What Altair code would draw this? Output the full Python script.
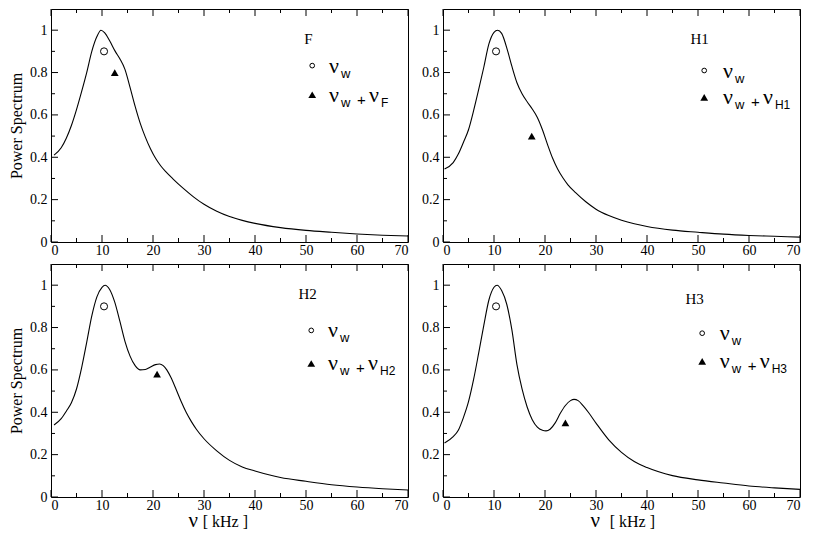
import altair as alt
import pandas as pd

# ---------------- data ----------------
F_NU = [0.6, 2, 3, 4, 5, 6, 7, 8, 9, 9.8, 10.5, 11.5, 12.6, 13.5, 14.5, 15.5, 16.5, 17.5, 18.5, 19.5, 20.5, 21.5, 22.5, 24, 26, 28, 30, 32.5, 35, 37.5, 40, 45, 50, 55, 60, 65, 70]
F_P = [0.41, 0.445, 0.49, 0.55, 0.625, 0.71, 0.80, 0.90, 0.97, 1.0, 0.988, 0.95, 0.90, 0.865, 0.815, 0.73, 0.64, 0.56, 0.495, 0.44, 0.395, 0.36, 0.332, 0.296, 0.252, 0.212, 0.178, 0.145, 0.120, 0.102, 0.088, 0.068, 0.055, 0.046, 0.038, 0.032, 0.028]

H1_NU = [0.3, 2, 3, 4, 5, 6, 7, 8, 9, 10, 10.7, 11.5, 12.7, 13.5, 14.5, 15.5, 16.5, 17.5, 18.5, 19.5, 20.5, 21.5, 22.5, 23.5, 24.5, 26, 28, 30, 32.5, 35, 37.5, 40, 45, 50, 55, 60, 65, 70]
H1_P = [0.345, 0.375, 0.415, 0.47, 0.53, 0.62, 0.72, 0.825, 0.935, 0.99, 1.0, 0.985, 0.90, 0.83, 0.752, 0.70, 0.662, 0.628, 0.588, 0.53, 0.46, 0.395, 0.343, 0.303, 0.27, 0.233, 0.19, 0.155, 0.125, 0.103, 0.086, 0.073, 0.056, 0.046, 0.037, 0.031, 0.027, 0.023]

H2_NU = [0.6, 2, 3, 4, 5, 6, 7, 8, 9, 10, 10.6, 11.5, 12.5, 13.5, 14.5, 15.5, 16.5, 17.5, 18.5, 19.5, 20.5, 21.3, 22, 22.7, 23.5, 24.5, 25.5, 26.5, 27.5, 28.5, 30, 32.5, 35, 37.5, 40, 45, 50, 55, 60, 65, 70]
H2_P = [0.34, 0.37, 0.405, 0.445, 0.51, 0.61, 0.73, 0.855, 0.945, 0.99, 1.0, 0.98, 0.92, 0.83, 0.735, 0.665, 0.62, 0.60, 0.602, 0.614, 0.625, 0.628, 0.62, 0.60, 0.565, 0.51, 0.452, 0.40, 0.357, 0.32, 0.275, 0.218, 0.173, 0.142, 0.123, 0.092, 0.074, 0.058, 0.047, 0.039, 0.033]

H3_NU = [0.3, 2, 3, 4, 5, 6, 7, 8, 9, 10, 10.6, 11.5, 12.5, 13.5, 14.5, 15.5, 16.5, 17.5, 18.5, 19.5, 20.2, 21, 22, 23, 24, 25, 25.7, 26.5, 27.5, 28.5, 30, 32.5, 35, 37.5, 40, 45, 50, 55, 60, 65, 70]
H3_P = [0.255, 0.285, 0.315, 0.375, 0.45, 0.555, 0.68, 0.81, 0.93, 0.99, 1.0, 0.975, 0.91, 0.79, 0.625, 0.51, 0.425, 0.365, 0.33, 0.315, 0.312, 0.32, 0.35, 0.395, 0.432, 0.455, 0.461, 0.455, 0.43, 0.40, 0.349, 0.27, 0.211, 0.168, 0.139, 0.101, 0.081, 0.066, 0.052, 0.043, 0.036]

PANEL_LABELS = ["F", "H1", "H2", "H3"]
CIRCLE_NU = [10.4, 10.4, 10.4, 10.4]
CIRCLE_P = [0.9, 0.9, 0.9, 0.9]
TRIANGLE_NU = [12.5, 17.4, 20.8, 24.0]
TRIANGLE_P = [0.80, 0.50, 0.58, 0.35]

X_MAJOR = [0, 10, 20, 30, 40, 50, 60, 70]
X_MINOR = [5, 15, 25, 35, 45, 55, 65]
Y_MAJOR = [0, 0.2, 0.4, 0.6, 0.8, 1.0]
Y_MINOR = [0.1, 0.3, 0.5, 0.7, 0.9]

Y_TITLE = "Power Spectrum"
X_TITLE_SYMBOL = "ν"
X_TITLE_UNIT = "[ kHz ]"

# ---------------- layout / style ----------------
W, H = 357, 233
SERIF = "Liberation Serif"
SANS = "Liberation Sans"
ONE = pd.DataFrame({"k": [0]})

# legend placement as fractions of the plot area: label, circle row, triangle row, text x
LEG = [
    dict(lx=0.7096, ly=0.130, sx=0.7317, oy=0.243, ty=0.368, nx=0.7785),
    dict(lx=0.693, ly=0.130, sx=0.7317, oy=0.264, ty=0.379, nx=0.784),
    dict(lx=0.693, ly=0.127, sx=0.729, oy=0.285, ty=0.427, nx=0.776),
    dict(lx=0.679, ly=0.152, sx=0.726, oy=0.297, ty=0.4175, nx=0.775),
]
# x-title placement (fractions of width) for bottom panels: nu symbol, unit text
XT = {2: (0.385, 0.425), 3: (0.413, 0.467)}

xscale = alt.Scale(domain=[0, 70], nice=False, zero=False)
yscale = alt.Scale(domain=[0, 1.1], nice=False, zero=False)


def txt(s, px, py, font, size, baseline="alphabetic", align="left"):
    return alt.Chart(ONE).mark_text(
        text=s, font=font, fontSize=size, align=align, baseline=baseline, color="black"
    ).encode(x=alt.value(px), y=alt.value(py))


def panel(i, nus, ps, ytitle):
    common = dict(ticks=False, domain=False, grid=False,
                  labelFont=SERIF, labelFontSize=14, labelColor="black",
                  titleFont=SERIF, titleFontSize=16, titleFontWeight="normal", titleColor="black")
    xkw = dict(values=X_MAJOR, labelPadding=1, format="d", title=None, **common)
    ykw = dict(values=Y_MAJOR, labelPadding=4, format="~g", titlePadding=5, **common)
    ykw["title"] = ytitle if ytitle else None
    xaxis = alt.Axis(**xkw)
    yaxis = alt.Axis(**ykw)
    X = alt.X("nu:Q", scale=xscale, axis=xaxis)
    Y = alt.Y("p:Q", scale=yscale, axis=yaxis)

    df = pd.DataFrame({"nu": nus, "p": ps})
    line = alt.Chart(df).mark_line(color="black", strokeWidth=1.1, interpolate="monotone").encode(x=X, y=Y)
    circ = alt.Chart(pd.DataFrame({"nu": [CIRCLE_NU[i]], "p": [CIRCLE_P[i]]})).mark_point(
        shape="circle", size=50, filled=False, color="black", strokeWidth=1, opacity=1
    ).encode(x=X, y=Y)
    tri = alt.Chart(pd.DataFrame({"nu": [TRIANGLE_NU[i]], "p": [TRIANGLE_P[i]]})).mark_point(
        shape="triangle-up", size=60, filled=True, color="black", opacity=1
    ).encode(x=X, y=Y)

    def xt(vals, y0, y1):
        return alt.Chart(pd.DataFrame({"nu": vals})).mark_rule(color="black", strokeWidth=1).encode(
            x=X, y=alt.value(y0), y2=alt.value(y1))

    def yt(vals, length):
        return alt.Chart(pd.DataFrame({"p": vals})).mark_rule(color="black", strokeWidth=1).encode(
            y=Y, x=alt.value(0), x2=alt.value(length))

    ticks = [
        xt(X_MAJOR, H, H - 7), xt(X_MINOR, H, H - 4),
        xt(X_MAJOR, 0, 7), xt(X_MINOR, 0, 4),
        yt(Y_MAJOR, 7), yt(Y_MINOR, 4),
    ]

    L = LEG[i]
    sub = PANEL_LABELS[i]
    sx, oy, ty, nx = L["sx"] * W, L["oy"] * H, L["ty"] * H, L["nx"] * W
    leg = [
        txt(PANEL_LABELS[i], L["lx"] * W, L["ly"] * H, SERIF, 15, baseline="middle"),
        alt.Chart(ONE).mark_point(shape="circle", size=22, filled=False, color="black",
                                  strokeWidth=1, opacity=1).encode(x=alt.value(sx), y=alt.value(oy)),
        alt.Chart(ONE).mark_point(shape="triangle-up", size=60, filled=True, color="black",
                                  opacity=1).encode(x=alt.value(sx), y=alt.value(ty)),
        txt("ν", nx, oy + 7, SERIF, 22),
        txt("w", nx + 12, oy + 12, SANS, 13),
        txt("ν", nx, ty + 7, SERIF, 22),
        txt("w", nx + 12, ty + 12, SANS, 13),
        txt("+", nx + 28, ty + 10, SANS, 15),
        txt("ν", nx + 40, ty + 7, SERIF, 22),
        txt(sub, nx + 52, ty + 12, SANS, 12),
    ]
    if i in XT:
        a, b = XT[i]
        leg += [
            txt(X_TITLE_SYMBOL, a * W, H + 30, SERIF, 21),
            txt(X_TITLE_UNIT, b * W, H + 30, SERIF, 16),
        ]
    return alt.layer(line, circ, tri, *ticks, *leg).properties(width=W, height=H)


p_tl = panel(0, F_NU, F_P, Y_TITLE)
p_tr = panel(1, H1_NU, H1_P, None)
p_bl = panel(2, H2_NU, H2_P, Y_TITLE)
p_br = panel(3, H3_NU, H3_P, None)

top = alt.hconcat(p_tl, p_tr, spacing=10)
bottom = alt.hconcat(p_bl, p_br, spacing=10)

chart = alt.vconcat(top, bottom, spacing=5).properties(
    padding={"left": 0, "top": 0, "right": 0, "bottom": 0},
    background="white",
).configure_view(
    stroke="black", strokeWidth=1
)

chart.save("out.html", embed_options={"renderer": "svg", "actions": False})
